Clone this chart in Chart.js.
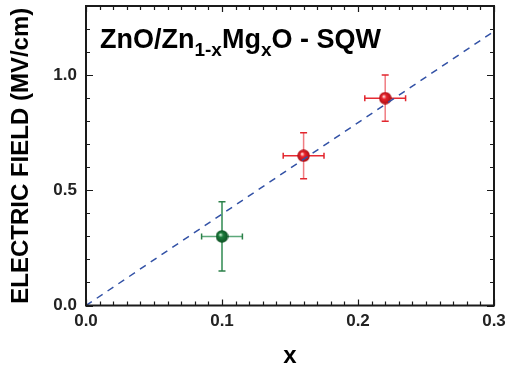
<!DOCTYPE html>
<html>
<head>
<meta charset="utf-8">
<script src="https://cdn.jsdelivr.net/npm/chart.js@4/dist/chart.umd.min.js"></script>
<style>
  html, body { margin: 0; padding: 0; background: #ffffff; }
  #wrap { width: 506px; height: 369px; }
</style>
</head>
<body>
<div id="wrap"><canvas id="c" width="506" height="369"></canvas></div>
<script>
// Mg content x of each quantum well sample and the measured built-in field
const mgContent    = [0.10, 0.16, 0.22];
const fieldValues  = [0.30, 0.65, 0.90];   // MV/cm
const contentError = [0.015, 0.015, 0.015];
const fieldError   = [0.15, 0.10, 0.10];
const sampleKind   = ['green', 'red', 'red'];

// linear guide line through the origin
const fitX = [0.0, 0.3];
const fitY = [0.0, 1.19];

// labelled ticks
const xTickLabels = [0.0, 0.1, 0.2, 0.3];
const yTickLabels = [0.0, 0.5, 1.0];

const FONT = "'Liberation Sans', Arial, Helvetica, sans-serif";

const palette = {
  red:   { light: '#ffd6d6', mid: '#e8232b', dark: '#a80c12', hBar: '#e62a32', vBar: '#f07c82', cap: '#e2262e' },
  green: { light: '#bfe6c8', mid: '#1b7c3c', dark: '#0c4f22', hBar: '#5ca87a', vBar: '#2f8a50', cap: '#2b8048' }
};

// shaded sphere marker
function makeSphere(kind) {
  const c = palette[kind];
  const s = 13;
  const cv = document.createElement('canvas');
  cv.width = s; cv.height = s;
  const g = cv.getContext('2d');
  const grad = g.createRadialGradient(s * 0.38, s * 0.36, 0.5, s / 2, s / 2, s / 2);
  grad.addColorStop(0, c.light);
  grad.addColorStop(0.3, c.mid);
  grad.addColorStop(1, c.dark);
  g.fillStyle = grad;
  g.beginPath();
  g.arc(s / 2, s / 2, s / 2 - 0.3, 0, Math.PI * 2);
  g.fill();
  return cv;
}
const sphereImages = sampleKind.map(makeSphere);

const errorBars = {
  id: 'errorBars',
  beforeDatasetsDraw(chart) {
    const { ctx, scales: { x, y } } = chart;
    ctx.save();
    ctx.lineWidth = 1.5;
    mgContent.forEach((mx, i) => {
      const c = palette[sampleKind[i]];
      const px = x.getPixelForValue(mx);
      const py = y.getPixelForValue(fieldValues[i]);
      const x0 = x.getPixelForValue(mx - contentError[i]);
      const x1 = x.getPixelForValue(mx + contentError[i]);
      const y0 = y.getPixelForValue(fieldValues[i] - fieldError[i]);
      const y1 = y.getPixelForValue(fieldValues[i] + fieldError[i]);
      ctx.strokeStyle = c.hBar;
      ctx.beginPath();
      ctx.moveTo(x0, py); ctx.lineTo(x1, py);
      ctx.stroke();
      ctx.strokeStyle = c.vBar;
      ctx.beginPath();
      ctx.moveTo(px, y0); ctx.lineTo(px, y1);
      ctx.stroke();
      ctx.strokeStyle = c.cap;
      ctx.beginPath();
      ctx.moveTo(x0, py - 3); ctx.lineTo(x0, py + 3);
      ctx.moveTo(x1, py - 3); ctx.lineTo(x1, py + 3);
      ctx.moveTo(px - 3.5, y0); ctx.lineTo(px + 3.5, y0);
      ctx.moveTo(px - 3.5, y1); ctx.lineTo(px + 3.5, y1);
      ctx.stroke();
    });
    ctx.restore();
  }
};

// closed frame with inward major/minor ticks on all four sides
const frameTicks = {
  id: 'frameTicks',
  afterDatasetsDraw(chart) {
    const { ctx, chartArea: a, scales: { x, y } } = chart;
    ctx.save();
    ctx.strokeStyle = '#1a1a1a';
    ctx.lineWidth = 1.2;
    ctx.beginPath();
    for (let i = 0; i <= 30; i++) {
      const px = Math.round(x.getPixelForValue(i / 100)) + 0.5;
      const len = i % 10 === 0 ? 6 : 4;
      ctx.moveTo(px, a.bottom); ctx.lineTo(px, a.bottom - len);
      ctx.moveTo(px, a.top); ctx.lineTo(px, a.top + len);
    }
    for (let i = 0; i <= 13; i++) {
      const py = Math.round(y.getPixelForValue(i / 10)) + 0.5;
      const len = i % 5 === 0 ? 7 : 4;
      ctx.moveTo(a.left, py); ctx.lineTo(a.left + len, py);
      ctx.moveTo(a.right, py); ctx.lineTo(a.right - len, py);
    }
    ctx.stroke();
    ctx.lineWidth = 2;
    ctx.strokeRect(a.left, a.top, a.right - a.left, a.bottom - a.top);
    ctx.restore();
  },
  afterDraw(chart) {
    // heading with subscripts: ZnO/Zn(1-x)Mg(x)O - SQW
    const { ctx } = chart;
    const parts = [
      ['ZnO/Zn', false], ['1-x', true], ['Mg', false], ['x', true], ['O - SQW', false]
    ];
    ctx.save();
    ctx.fillStyle = '#000000';
    ctx.textBaseline = 'alphabetic';
    let cx = 100;
    const base = 48;
    parts.forEach(([t, sub]) => {
      ctx.font = sub ? `bold 19px ${FONT}` : `bold 27px ${FONT}`;
      ctx.fillText(t, cx, sub ? base + 8 : base);
      cx += ctx.measureText(t).width;
    });
    ctx.restore();
  }
};

function noEdgePadding(s) {
  s.paddingTop = 0; s.paddingBottom = 0; s.paddingLeft = 0; s.paddingRight = 0;
}

const chart = new Chart(document.getElementById('c'), {
  data: {
    datasets: [
      {
        type: 'line',
        data: fitX.map((v, i) => ({ x: v, y: fitY[i] })),
        borderColor: '#3352a6',
        borderWidth: 1.5,
        borderDash: [7, 6],
        pointRadius: 0,
        fill: false
      },
      {
        type: 'scatter',
        data: mgContent.map((v, i) => ({ x: v, y: fieldValues[i] })),
        pointStyle: sphereImages,
        pointRadius: 6.5,
        pointHoverRadius: 6.5
      }
    ]
  },
  options: {
    responsive: false,
    animation: false,
    events: [],
    layout: { autoPadding: false, padding: { top: 6, right: 12, left: 0, bottom: 0 } },
    plugins: { legend: { display: false }, tooltip: { enabled: false } },
    scales: {
      x: {
        type: 'linear',
        min: 0, max: 0.3,
        afterBuildTicks(s) { s.ticks = xTickLabels.map(v => ({ value: v })); },
        afterFit(s) { s.height = 63.5; noEdgePadding(s); },
        grid: { display: false, drawTicks: false },
        border: { display: false },
        ticks: {
          padding: 6,
          color: '#222222',
          font: { family: FONT, size: 17, weight: 'bold' },
          callback: v => Number(v).toFixed(1)
        },
        title: {
          display: true, text: 'x', color: '#000000',
          font: { family: FONT, size: 24, weight: 'bold', lineHeight: 1 },
          padding: { top: 0, bottom: 1 }
        }
      },
      y: {
        type: 'linear',
        min: 0, max: 1.3,
        afterBuildTicks(s) { s.ticks = yTickLabels.map(v => ({ value: v })); },
        afterFit(s) { s.width = 86; noEdgePadding(s); },
        grid: { display: false, drawTicks: false },
        border: { display: false },
        ticks: {
          padding: 9,
          color: '#222222',
          font: { family: FONT, size: 17, weight: 'bold' },
          callback: v => Number(v).toFixed(1)
        },
        title: {
          display: true, text: 'ELECTRIC FIELD (MV/cm)', color: '#000000',
          font: { family: FONT, size: 24, weight: 'bold', lineHeight: 1 },
          padding: { top: 9, bottom: 0 }
        }
      }
    }
  },
  plugins: [errorBars, frameTicks]
});
</script>
</body>
</html>
